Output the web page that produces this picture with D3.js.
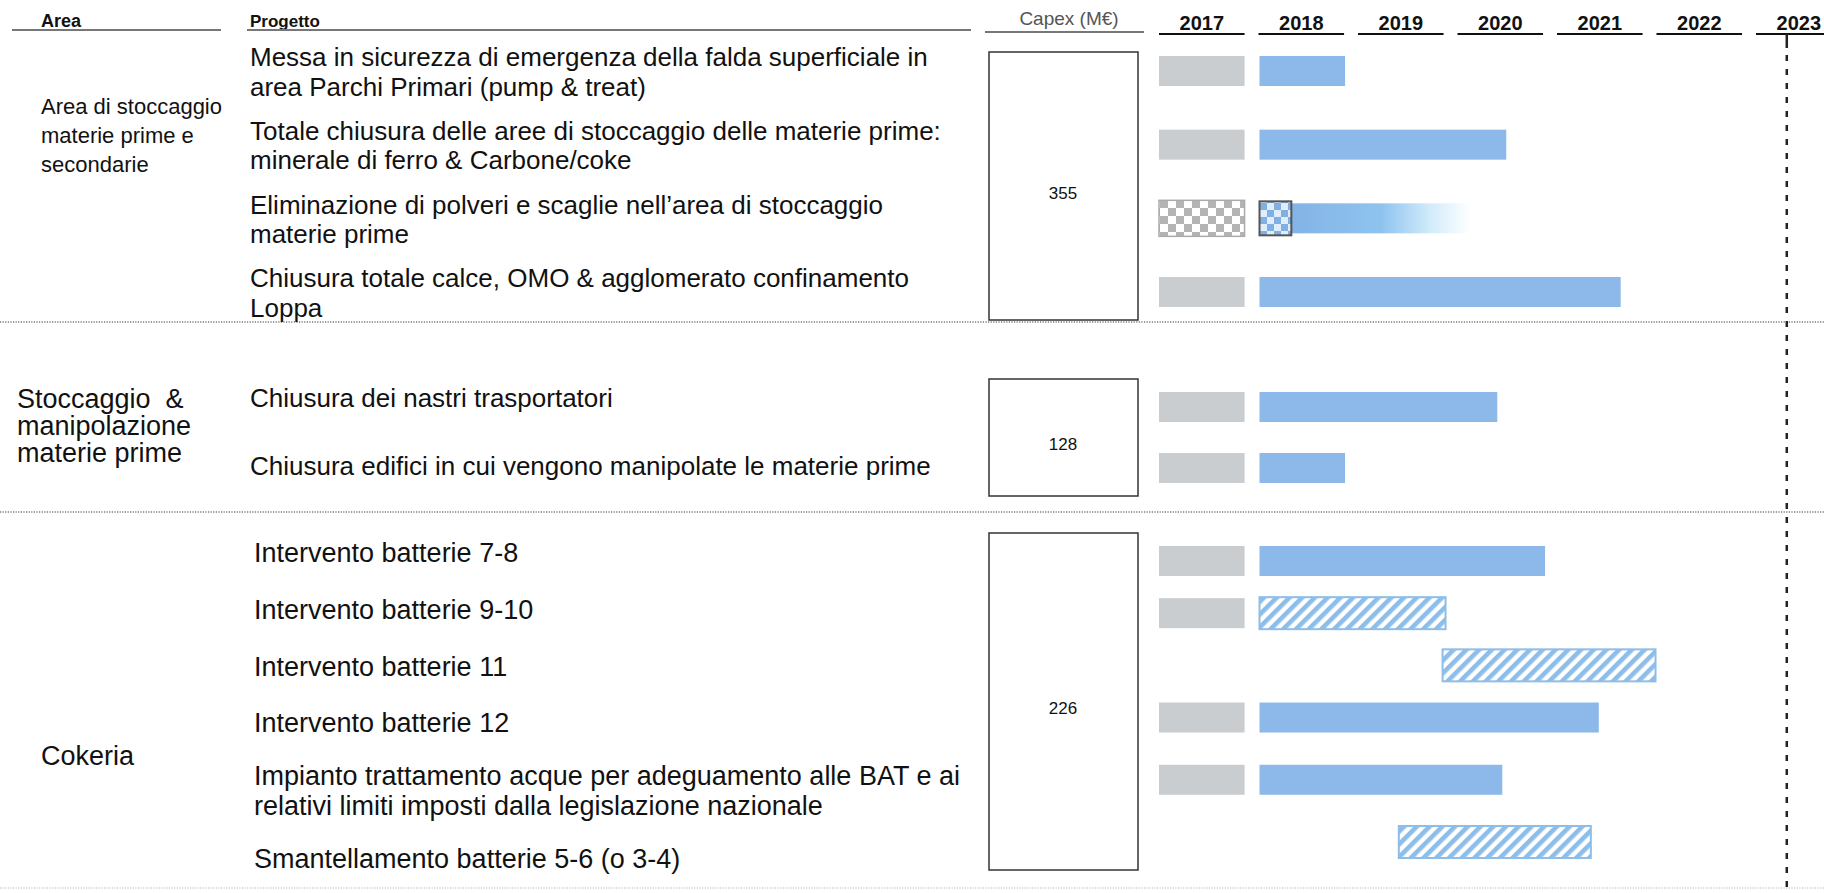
<!DOCTYPE html>
<html>
<head>
<meta charset="utf-8">
<script src="https://cdn.jsdelivr.net/npm/d3@7"></script>
<style>
  body { margin: 0; background: #fff; }
  text { font-family: "Liberation Sans", Arial, sans-serif; fill: #111; }
  .hdr { font-family: "Liberation Sans Narrow", "Liberation Sans", Arial, sans-serif; }
</style>
</head>
<body>
<div id="chart"></div>
<script>
const width = 1824
const height = 893

// ---- data ----
const years = [2017, 2018, 2019, 2020, 2021, 2022, 2023]
const areaNames = [
  ['Area di stoccaggio', 'materie prime e', 'secondarie'],
  ['Stoccaggio  &', 'manipolazione', 'materie prime'],
  ['Cokeria']
]
const capex = [355, 128, 226]
const projects = [
  ['Messa in sicurezza di emergenza della falda superficiale in', 'area Parchi Primari (pump & treat)'],
  ['Totale chiusura delle aree di stoccaggio delle materie prime:', 'minerale di ferro & Carbone/coke'],
  ['Eliminazione di polveri e scaglie nell’area di stoccaggio', 'materie prime'],
  ['Chiusura totale calce, OMO & agglomerato confinamento', 'Loppa'],
  ['Chiusura dei nastri trasportatori'],
  ['Chiusura edifici in cui vengono manipolate le materie prime'],
  ['Intervento batterie 7-8'],
  ['Intervento batterie 9-10'],
  ['Intervento batterie 11'],
  ['Intervento batterie 12'],
  ['Impianto trattamento acque per adeguamento alle BAT e ai', 'relativi limiti imposti dalla legislazione nazionale'],
  ['Smantellamento batterie 5-6 (o 3-4)']
]
const projectArea = [0, 0, 0, 0, 1, 1, 2, 2, 2, 2, 2, 2]
// what was done in 2017 (grey block)
const kind2017 = ['solid', 'solid', 'check', 'solid', 'solid', 'solid', 'solid', 'solid', 'none', 'solid', 'solid', 'none']
// planned bar from 2018 on
const barKind = ['solid', 'solid', 'fade', 'solid', 'solid', 'solid', 'solid', 'hatch', 'hatch', 'solid', 'solid', 'hatch']
const barStart = [2018, 2018, 2018, 2018, 2018, 2018, 2018, 2018, 2019.84, 2018, 2018, 2019.4]
const barEnd = [2018.86, 2020.48, 2020.12, 2021.63, 2020.39, 2018.86, 2020.87, 2019.87, 2021.98, 2021.41, 2020.44, 2021.33]
const fadeCheckEnd = 2018.32

// ---- layout ----
const barRange = [[71, 292], [407, 468], [561, 842]]
const textRange = [[72, 293], [398, 466], [553, 859]]
const separators = [322, 512, 888]
const rowFont = [26, 26, 27]
const rowX = [250, 250, 254]
const areaFont = [22, 27, 27]
const areaLine = [29, 27, 27]
const areaX = [41, 17, 41]
const areaY = [135, 426, 756]
const slot = 0.86
const barH = 30

const svg = d3
  .select('#chart')
  .append('svg')
  .attr('width', width)
  .attr('height', height)

const x = d3.scaleLinear().domain([2017, 2023]).range([1159, 1756])

// rows are spaced by how many text lines they carry
const lineUnit = 22, rowGap = 35
const rowPos = []
projects.forEach((lines, i) => {
  const prev = i - 1
  if (i === 0 || projectArea[prev] !== projectArea[i]) rowPos.push(0)
  else rowPos.push(rowPos[prev] + (projects[prev].length + lines.length) / 2 * lineUnit + rowGap)
})
const sectionScale = range => range.map((r, a) => {
  const idx = d3.range(projects.length).filter(i => projectArea[i] === a)
  return d3.scaleLinear().domain([0, rowPos[idx[idx.length - 1]]]).range(r)
})
const barScales = sectionScale(barRange)
const textScales = sectionScale(textRange)
const rowY = i => barScales[projectArea[i]](rowPos[i])
const textY = i => textScales[projectArea[i]](rowPos[i])

// patterns
const defs = svg.append('defs')
const hatch = defs.append('pattern')
  .attr('id', 'hatch')
  .attr('patternUnits', 'userSpaceOnUse')
  .attr('width', 9).attr('height', 9)
  .attr('patternTransform', 'rotate(45)')
hatch.append('rect').attr('width', 9).attr('height', 9).attr('fill', '#fff')
hatch.append('rect').attr('width', 4.6).attr('height', 9).attr('fill', '#8dbde9')

const check = defs.append('pattern')
  .attr('id', 'check')
  .attr('patternUnits', 'userSpaceOnUse')
  .attr('width', 16).attr('height', 16)
check.append('rect').attr('width', 16).attr('height', 16).attr('fill', '#fff')
check.append('rect').attr('width', 8).attr('height', 8).attr('fill', '#b4b4b4')
check.append('rect').attr('x', 8).attr('y', 8).attr('width', 8).attr('height', 8).attr('fill', '#b4b4b4')

const checkBlue = defs.append('pattern')
  .attr('id', 'checkBlue')
  .attr('patternUnits', 'userSpaceOnUse')
  .attr('width', 14).attr('height', 14)
checkBlue.append('rect').attr('width', 14).attr('height', 14).attr('fill', '#7fafe3')
checkBlue.append('rect').attr('width', 7).attr('height', 7).attr('fill', '#dfeefa')
checkBlue.append('rect').attr('x', 7).attr('y', 7).attr('width', 7).attr('height', 7).attr('fill', '#dfeefa')

const fade = defs.append('linearGradient').attr('id', 'fade')
fade.append('stop').attr('offset', '0%').attr('stop-color', '#84b3e6')
fade.append('stop').attr('offset', '50%').attr('stop-color', '#8ec3ef')
fade.append('stop').attr('offset', '78%').attr('stop-color', '#d2ecfb')
fade.append('stop').attr('offset', '100%').attr('stop-color', '#ffffff')

// ---- header ----
const hdrY = 27
svg.append('text').attr('class', 'hdr').attr('x', 41).attr('y', hdrY)
  .attr('font-size', 18).attr('font-weight', 700).text('Area')
svg.append('line').attr('x1', 12).attr('x2', 221).attr('y1', hdrY + 3).attr('y2', hdrY + 3)
  .attr('stroke', '#777').attr('stroke-width', 2)
svg.append('text').attr('class', 'hdr').attr('x', 250).attr('y', hdrY)
  .attr('font-size', 17).attr('font-weight', 700).text('Progetto')
svg.append('line').attr('x1', 247).attr('x2', 971).attr('y1', hdrY + 3).attr('y2', hdrY + 3)
  .attr('stroke', '#777').attr('stroke-width', 2)
svg.append('text').attr('class', 'hdr').attr('x', 1069).attr('y', hdrY - 2)
  .attr('text-anchor', 'middle').attr('font-size', 19).style('fill', '#555').text('Capex (M€)')
svg.append('line').attr('x1', 985).attr('x2', 1144).attr('y1', hdrY + 5).attr('y2', hdrY + 5)
  .attr('stroke', '#777').attr('stroke-width', 2)

const yearG = svg.selectAll('.year').data(years).join('g').attr('class', 'year')
yearG.append('text')
  .attr('class', 'hdr')
  .attr('x', d => x(d + slot / 2))
  .attr('y', hdrY + 3)
  .attr('text-anchor', 'middle')
  .attr('font-size', 20)
  .attr('font-weight', 700)
  .text(d => d)
yearG.append('line')
  .attr('x1', d => x(d))
  .attr('x2', (d, i) => i === years.length - 1 ? width : x(d + slot))
  .attr('y1', hdrY + 7).attr('y2', hdrY + 7)
  .attr('stroke', '#111').attr('stroke-width', 2)

// ---- separators ----
svg.selectAll('.sep').data(separators).join('line')
  .attr('class', 'sep')
  .attr('x1', 0).attr('x2', width)
  .attr('y1', d => d).attr('y2', d => d)
  .attr('stroke', (d, i) => i === separators.length - 1 ? '#ccc' : '#777')
  .attr('stroke-width', 1.6)
  .attr('stroke-dasharray', '1.2,1.4')

// 2023 marker
const markX = x(2023 + slot / 2) - 12
svg.append('line').attr('x1', markX).attr('x2', markX)
  .attr('y1', hdrY + 7).attr('y2', hdrY + 21)
  .attr('stroke', '#222').attr('stroke-width', 2.5)
svg.append('line').attr('x1', markX).attr('x2', markX)
  .attr('y1', hdrY + 28).attr('y2', height)
  .attr('stroke', '#222').attr('stroke-width', 2.5)
  .attr('stroke-dasharray', '6,8')

// ---- area labels ----
areaNames.forEach((lines, a) => {
  const fs = areaFont[a]
  const lh = areaLine[a]
  svg.append('text')
    .attr('x', areaX[a])
    .attr('y', areaY[a] - (lines.length - 1) * lh / 2)
    .attr('font-size', fs)
    .attr('dominant-baseline', 'central')
    .style('white-space', 'pre')
    .selectAll('tspan').data(lines).join('tspan')
    .attr('x', areaX[a])
    .attr('dy', (d, i) => i === 0 ? 0 : lh)
    .text(d => d)
})

// ---- project labels ----
projects.forEach((lines, i) => {
  const a = projectArea[i]
  const fs = rowFont[a]
  const lh = fs * 1.12
  svg.append('text')
    .attr('x', rowX[a])
    .attr('y', textY(i) - (lines.length - 1) * lh / 2)
    .attr('font-size', fs)
    .attr('dominant-baseline', 'central')
    .selectAll('tspan').data(lines).join('tspan')
    .attr('x', rowX[a])
    .attr('dy', (d, k) => k === 0 ? 0 : lh)
    .text(d => d)
})

// ---- capex boxes ----
capex.forEach((v, a) => {
  const idx = d3.range(projects.length).filter(i => projectArea[i] === a)
  const top = rowY(idx[0]) - 19 - (a === 0 ? 0 : 9)
  const bottom = rowY(idx[idx.length - 1]) + 28
  svg.append('rect')
    .attr('x', 989).attr('y', top)
    .attr('width', 149).attr('height', bottom - top)
    .attr('fill', 'none').attr('stroke', '#333').attr('stroke-width', 1.5)
  svg.append('text')
    .attr('x', 1063).attr('y', (top + bottom) / 2 + 7)
    .attr('text-anchor', 'middle').attr('dominant-baseline', 'central')
    .attr('font-size', 17)
    .text(v)
})

// ---- bars ----
const rows = d3.range(projects.length)

// 2017 grey blocks
svg.selectAll('.done').data(rows.filter(i => kind2017[i] !== 'none')).join('rect')
  .attr('class', 'done')
  .attr('x', x(2017))
  .attr('width', x(2017 + slot) - x(2017))
  .attr('y', i => rowY(i) - (kind2017[i] === 'check' ? 18 : barH / 2))
  .attr('height', i => kind2017[i] === 'check' ? 36 : barH)
  .attr('fill', i => kind2017[i] === 'check' ? 'url(#check)' : '#c9cdd0')
  .attr('stroke', i => kind2017[i] === 'check' ? '#aaa' : 'none')
  .attr('stroke-width', 1.5)

// planned bars
svg.selectAll('.plan').data(rows).join('rect')
  .attr('class', 'plan')
  .attr('x', i => x(barKind[i] === 'fade' ? fadeCheckEnd : barStart[i]) + 1)
  .attr('width', i => x(barEnd[i]) - x(barKind[i] === 'fade' ? fadeCheckEnd : barStart[i]))
  .attr('y', i => rowY(i) - (barKind[i] === 'hatch' ? 16 : barH / 2))
  .attr('height', i => barKind[i] === 'hatch' ? 32 : barH)
  .attr('fill', i => barKind[i] === 'hatch' ? 'url(#hatch)' : barKind[i] === 'fade' ? 'url(#fade)' : '#8cb9e9')
  .attr('stroke', i => barKind[i] === 'hatch' ? '#8dbde9' : 'none')
  .attr('stroke-width', 2)

// small checkered start of the fading bar
svg.selectAll('.fadeStart').data(rows.filter(i => barKind[i] === 'fade')).join('rect')
  .attr('class', 'fadeStart')
  .attr('x', i => x(barStart[i]) + 1)
  .attr('width', i => x(fadeCheckEnd) - x(barStart[i]))
  .attr('y', i => rowY(i) - 17)
  .attr('height', 34)
  .attr('fill', 'url(#checkBlue)')
  .attr('stroke', '#555')
  .attr('stroke-width', 2)
</script>
</body>
</html>
